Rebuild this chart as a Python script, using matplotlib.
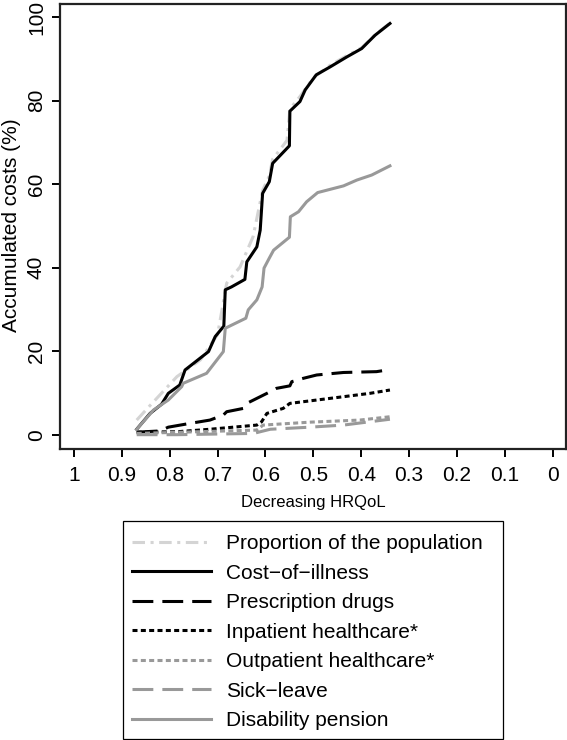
import matplotlib
matplotlib.use("Agg")
import matplotlib.pyplot as plt
from matplotlib.patches import Rectangle

plt.rcParams['font.family'] = ['Liberation Sans', 'DejaVu Sans']
plt.rcParams['lines.scale_dashes'] = False

# --- data (HRQoL value, accumulated %) ---
prop_x = [0.869, 0.841, 0.785, 0.736, 0.700, 0.681, 0.653, 0.626, 0.606, 0.592,
          0.585, 0.555, 0.549, 0.528, 0.500, 0.465, 0.430, 0.399, 0.371, 0.340]
prop_y = [3.5, 7.0, 13.9, 17.9, 24.0, 36.3, 40.2, 47.4, 58.5, 62.0,
          66.0, 70.5, 78.0, 81.0, 85.5, 88.5, 90.8, 92.7, 95.8, 98.6]

coi_x = [0.869, 0.841, 0.817, 0.803, 0.779, 0.768, 0.719, 0.705, 0.687, 0.684,
         0.671, 0.643, 0.639, 0.618, 0.611, 0.606, 0.592, 0.585, 0.550, 0.549,
         0.528, 0.517, 0.494, 0.465, 0.430, 0.399, 0.371, 0.340]
coi_y = [1.3, 5.1, 7.3, 9.9, 11.9, 15.5, 19.9, 23.5, 26.0, 34.7,
         35.4, 37.2, 41.4, 45.0, 49.0, 57.8, 60.6, 65.0, 69.2, 77.5,
         79.8, 82.6, 86.2, 88.1, 90.5, 92.5, 95.7, 98.5]

drug_x = [0.869, 0.820, 0.803, 0.758, 0.716, 0.688, 0.681, 0.646, 0.639, 0.611,
          0.597, 0.577, 0.549, 0.545, 0.521, 0.493, 0.437, 0.368, 0.340]
drug_y = [0.6, 0.9, 1.8, 2.7, 3.5, 4.7, 5.5, 6.3, 7.5, 9.1,
          9.9, 11.1, 11.7, 12.7, 13.5, 14.3, 14.9, 15.1, 15.6]

inpat_x = [0.869, 0.785, 0.716, 0.618, 0.608, 0.597, 0.563, 0.549, 0.507, 0.437, 0.382, 0.340]
inpat_y = [0.6, 0.7, 1.3, 2.3, 3.1, 5.1, 6.3, 7.5, 8.1, 9.1, 9.9, 10.7]

outpat_x = [0.869, 0.618, 0.605, 0.507, 0.403, 0.340]
outpat_y = [0.3, 1.1, 2.3, 3.0, 3.5, 4.3]

sick_x = [0.869, 0.785, 0.625, 0.590, 0.507, 0.437, 0.382, 0.340]
sick_y = [0.0, 0.0, 0.3, 1.3, 1.8, 2.3, 3.1, 3.7]

dis_x = [0.869, 0.834, 0.803, 0.775, 0.772, 0.723, 0.688, 0.684, 0.641, 0.636,
         0.618, 0.607, 0.603, 0.592, 0.583, 0.550, 0.548, 0.531, 0.514, 0.491,
         0.437, 0.409, 0.378, 0.340]
dis_y = [1.3, 5.9, 8.3, 11.5, 12.3, 14.7, 19.9, 25.5, 27.9, 29.9,
         32.3, 35.4, 39.9, 42.3, 44.2, 47.3, 52.2, 53.4, 55.8, 58.0,
         59.6, 61.0, 62.2, 64.4]

labels = ["Proportion of the population", "Cost\u2212of\u2212illness", "Prescription drugs",
          "Inpatient healthcare*", "Outpatient healthcare*", "Sick\u2212leave", "Disability pension"]
xticks = [1, 0.9, 0.8, 0.7, 0.6, 0.5, 0.4, 0.3, 0.2, 0.1, 0]
xtick_labels = ["1", "0.9", "0.8", "0.7", "0.6", "0.5", "0.4", "0.3", "0.2", "0.1", "0"]
yticks = [0, 20, 40, 60, 80, 100]

W, H = 567, 740
fig = plt.figure(figsize=(W / 100, H / 100), dpi=100)
ax = fig.add_axes([60.3 / W, 1 - 449 / H, (566 - 60.3) / W, (449 - 4.3) / H])

lw = 2.2
light = '#d4d4d4'
grey = '#999999'
longdash = (0, (15, 6.5))
dotted = (0, (3.6, 2.4))
dotdash = (0, (9, 4, 2.2, 4))

ax.plot(prop_x, prop_y, color=light, lw=lw, linestyle=dotdash, label=labels[0])
ax.plot(coi_x, coi_y, color='black', lw=lw, label=labels[1])
ax.plot(drug_x, drug_y, color='black', lw=lw, linestyle=longdash, label=labels[2])
ax.plot(inpat_x, inpat_y, color='black', lw=lw, linestyle=dotted, label=labels[3])
ax.plot(outpat_x, outpat_y, color=grey, lw=lw, linestyle=dotted, label=labels[4])
ax.plot(sick_x, sick_y, color=grey, lw=lw, linestyle=longdash, label=labels[5])
ax.plot(dis_x, dis_y, color=grey, lw=lw, label=labels[6])

# axis ranges (reversed x, like the original)
ax.set_xlim(1.0286, -0.0278)
ax.set_ylim(-3.43, 103.1)

ax.set_xticks(xticks)
ax.set_xticklabels(xtick_labels)
ax.set_yticks(yticks)
ax.tick_params(axis='both', direction='out', length=6, width=1.4, labelsize=15, colors='black')
ax.tick_params(axis='x', pad=6.5)
ax.tick_params(axis='y', pad=4.3)
for t in ax.get_yticklabels():
    t.set_rotation(90)
    t.set_va('center')
for sp in ax.spines.values():
    sp.set_linewidth(1.6)
    sp.set_color('#222222')

# axis titles placed in figure pixels
fig.text(12 / W, 1 - 225.5 / H, "Accumulated costs (%)", rotation=90,
         ha='center', va='center', fontsize=15)
fig.text(313.5 / W, 1 - 503 / H, "Decreasing HRQoL", ha='center', va='center', fontsize=12)

# legend below the plot, frame drawn separately
fs = 15
em = fs * 100 / 72
handles, labs = ax.get_legend_handles_labels()
leg = fig.legend(handles, labs, loc='upper left', bbox_to_anchor=(132 / W, 1 - 534 / H),
                 frameon=False, fontsize=fs, handlelength=79 / em, handletextpad=15 / em,
                 labelspacing=0.505, borderpad=0, borderaxespad=0)
fig.patches.append(Rectangle((123.3 / W, 1 - 739.3 / H), (502.7 - 123.3) / W, (739.3 - 520.7) / H,
                             transform=fig.transFigure, fill=False, edgecolor='black', lw=0.9))

fig.savefig("out.png", dpi=100)
